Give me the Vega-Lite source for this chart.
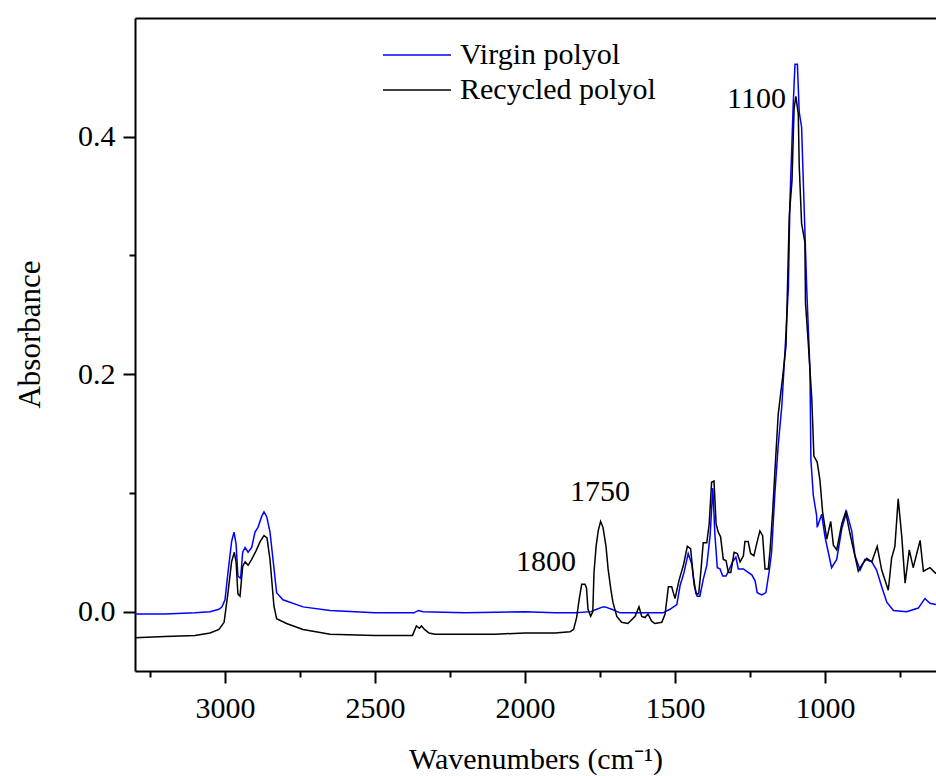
{
  "$schema": "https://vega.github.io/schema/vega-lite/v6.json",
  "autosize": "none",
  "width": 801,
  "height": 653,
  "padding": {"left": 135, "top": 18, "right": 0, "bottom": 105},
  "background": "white",
  "config": {
    "view": {"stroke": null},
    "font": "Liberation Serif",
    "axis": {
      "labelFont": "Liberation Serif", "titleFont": "Liberation Serif",
      "labelFontSize": 30, "titleFontSize": 30, "titleFontWeight": "normal",
      "labelColor": "#000", "titleColor": "#000", "domainColor": "#000", "tickColor": "#000",
      "domainWidth": 2, "tickWidth": 2, "grid": false
    },
    "legend": {
      "labelFont": "Liberation Serif", "labelFontSize": 30, "labelColor": "#000", "labelLimit": 400
    }
  },
  "datasets": {
    "spectra": [
      {"s":"Virgin polyol","w":3300,"a":-0.002},{"s":"Virgin polyol","w":3200,"a":-0.002},{"s":"Virgin polyol","w":3100,"a":-0.001},{"s":"Virgin polyol","w":3050,"a":0.000},{"s":"Virgin polyol","w":3020,"a":0.002},{"s":"Virgin polyol","w":3010,"a":0.004},{"s":"Virgin polyol","w":3000,"a":0.010},{"s":"Virgin polyol","w":2990,"a":0.033},{"s":"Virgin polyol","w":2978,"a":0.059},{"s":"Virgin polyol","w":2970,"a":0.067},{"s":"Virgin polyol","w":2963,"a":0.057},{"s":"Virgin polyol","w":2957,"a":0.030},{"s":"Virgin polyol","w":2948,"a":0.028},{"s":"Virgin polyol","w":2941,"a":0.050},{"s":"Virgin polyol","w":2933,"a":0.054},{"s":"Virgin polyol","w":2923,"a":0.050},{"s":"Virgin polyol","w":2911,"a":0.054},{"s":"Virgin polyol","w":2900,"a":0.067},{"s":"Virgin polyol","w":2890,"a":0.071},{"s":"Virgin polyol","w":2878,"a":0.080},{"s":"Virgin polyol","w":2870,"a":0.084},{"s":"Virgin polyol","w":2861,"a":0.080},{"s":"Virgin polyol","w":2850,"a":0.067},{"s":"Virgin polyol","w":2840,"a":0.044},{"s":"Virgin polyol","w":2828,"a":0.016},{"s":"Virgin polyol","w":2807,"a":0.010},{"s":"Virgin polyol","w":2740,"a":0.004},{"s":"Virgin polyol","w":2650,"a":0.001},{"s":"Virgin polyol","w":2500,"a":-0.001},{"s":"Virgin polyol","w":2370,"a":-0.001},{"s":"Virgin polyol","w":2355,"a":0.001},{"s":"Virgin polyol","w":2340,"a":0.000},{"s":"Virgin polyol","w":2200,"a":-0.001},{"s":"Virgin polyol","w":2000,"a":0.000},{"s":"Virgin polyol","w":1900,"a":-0.001},{"s":"Virgin polyol","w":1830,"a":-0.001},{"s":"Virgin polyol","w":1780,"a":0.000},{"s":"Virgin polyol","w":1761,"a":0.002},{"s":"Virgin polyol","w":1740,"a":0.004},{"s":"Virgin polyol","w":1733,"a":0.004},{"s":"Virgin polyol","w":1711,"a":0.002},{"s":"Virgin polyol","w":1683,"a":-0.001},{"s":"Virgin polyol","w":1540,"a":-0.001},{"s":"Virgin polyol","w":1517,"a":0.002},{"s":"Virgin polyol","w":1494,"a":0.006},{"s":"Virgin polyol","w":1483,"a":0.022},{"s":"Virgin polyol","w":1470,"a":0.033},{"s":"Virgin polyol","w":1456,"a":0.049},{"s":"Virgin polyol","w":1444,"a":0.040},{"s":"Virgin polyol","w":1436,"a":0.022},{"s":"Virgin polyol","w":1426,"a":0.013},{"s":"Virgin polyol","w":1417,"a":0.013},{"s":"Virgin polyol","w":1406,"a":0.027},{"s":"Virgin polyol","w":1394,"a":0.039},{"s":"Virgin polyol","w":1383,"a":0.064},{"s":"Virgin polyol","w":1374,"a":0.104},{"s":"Virgin polyol","w":1367,"a":0.065},{"s":"Virgin polyol","w":1359,"a":0.037},{"s":"Virgin polyol","w":1350,"a":0.036},{"s":"Virgin polyol","w":1341,"a":0.030},{"s":"Virgin polyol","w":1330,"a":0.030},{"s":"Virgin polyol","w":1322,"a":0.034},{"s":"Virgin polyol","w":1308,"a":0.042},{"s":"Virgin polyol","w":1297,"a":0.046},{"s":"Virgin polyol","w":1289,"a":0.036},{"s":"Virgin polyol","w":1272,"a":0.036},{"s":"Virgin polyol","w":1261,"a":0.034},{"s":"Virgin polyol","w":1244,"a":0.031},{"s":"Virgin polyol","w":1233,"a":0.026},{"s":"Virgin polyol","w":1226,"a":0.016},{"s":"Virgin polyol","w":1211,"a":0.014},{"s":"Virgin polyol","w":1197,"a":0.016},{"s":"Virgin polyol","w":1186,"a":0.034},{"s":"Virgin polyol","w":1178,"a":0.050},{"s":"Virgin polyol","w":1167,"a":0.100},{"s":"Virgin polyol","w":1156,"a":0.140},{"s":"Virgin polyol","w":1144,"a":0.173},{"s":"Virgin polyol","w":1133,"a":0.221},{"s":"Virgin polyol","w":1122,"a":0.273},{"s":"Virgin polyol","w":1117,"a":0.344},{"s":"Virgin polyol","w":1106,"a":0.427},{"s":"Virgin polyol","w":1100,"a":0.461},{"s":"Virgin polyol","w":1092,"a":0.461},{"s":"Virgin polyol","w":1086,"a":0.421},{"s":"Virgin polyol","w":1078,"a":0.408},{"s":"Virgin polyol","w":1070,"a":0.344},{"s":"Virgin polyol","w":1061,"a":0.273},{"s":"Virgin polyol","w":1050,"a":0.202},{"s":"Virgin polyol","w":1047,"a":0.128},{"s":"Virgin polyol","w":1039,"a":0.098},{"s":"Virgin polyol","w":1028,"a":0.081},{"s":"Virgin polyol","w":1026,"a":0.071},{"s":"Virgin polyol","w":1011,"a":0.082},{"s":"Virgin polyol","w":1000,"a":0.063},{"s":"Virgin polyol","w":989,"a":0.050},{"s":"Virgin polyol","w":978,"a":0.037},{"s":"Virgin polyol","w":961,"a":0.044},{"s":"Virgin polyol","w":944,"a":0.070},{"s":"Virgin polyol","w":928,"a":0.084},{"s":"Virgin polyol","w":911,"a":0.068},{"s":"Virgin polyol","w":900,"a":0.047},{"s":"Virgin polyol","w":883,"a":0.035},{"s":"Virgin polyol","w":867,"a":0.044},{"s":"Virgin polyol","w":844,"a":0.042},{"s":"Virgin polyol","w":828,"a":0.035},{"s":"Virgin polyol","w":811,"a":0.021},{"s":"Virgin polyol","w":794,"a":0.008},{"s":"Virgin polyol","w":772,"a":0.001},{"s":"Virgin polyol","w":728,"a":0.000},{"s":"Virgin polyol","w":689,"a":0.003},{"s":"Virgin polyol","w":667,"a":0.011},{"s":"Virgin polyol","w":650,"a":0.007},{"s":"Virgin polyol","w":630,"a":0.006},
      {"s":"Recycled polyol","w":3300,"a":-0.022},{"s":"Recycled polyol","w":3200,"a":-0.021},{"s":"Recycled polyol","w":3100,"a":-0.020},{"s":"Recycled polyol","w":3050,"a":-0.018},{"s":"Recycled polyol","w":3020,"a":-0.015},{"s":"Recycled polyol","w":3003,"a":-0.009},{"s":"Recycled polyol","w":2990,"a":0.016},{"s":"Recycled polyol","w":2978,"a":0.042},{"s":"Recycled polyol","w":2969,"a":0.050},{"s":"Recycled polyol","w":2963,"a":0.042},{"s":"Recycled polyol","w":2957,"a":0.015},{"s":"Recycled polyol","w":2950,"a":0.013},{"s":"Recycled polyol","w":2941,"a":0.038},{"s":"Recycled polyol","w":2933,"a":0.042},{"s":"Recycled polyol","w":2923,"a":0.039},{"s":"Recycled polyol","w":2911,"a":0.044},{"s":"Recycled polyol","w":2897,"a":0.051},{"s":"Recycled polyol","w":2883,"a":0.059},{"s":"Recycled polyol","w":2870,"a":0.064},{"s":"Recycled polyol","w":2860,"a":0.062},{"s":"Recycled polyol","w":2850,"a":0.044},{"s":"Recycled polyol","w":2837,"a":0.005},{"s":"Recycled polyol","w":2828,"a":-0.006},{"s":"Recycled polyol","w":2795,"a":-0.010},{"s":"Recycled polyol","w":2740,"a":-0.015},{"s":"Recycled polyol","w":2650,"a":-0.019},{"s":"Recycled polyol","w":2500,"a":-0.020},{"s":"Recycled polyol","w":2375,"a":-0.020},{"s":"Recycled polyol","w":2362,"a":-0.012},{"s":"Recycled polyol","w":2352,"a":-0.014},{"s":"Recycled polyol","w":2345,"a":-0.012},{"s":"Recycled polyol","w":2335,"a":-0.015},{"s":"Recycled polyol","w":2320,"a":-0.018},{"s":"Recycled polyol","w":2300,"a":-0.019},{"s":"Recycled polyol","w":2100,"a":-0.019},{"s":"Recycled polyol","w":2000,"a":-0.018},{"s":"Recycled polyol","w":1900,"a":-0.018},{"s":"Recycled polyol","w":1850,"a":-0.017},{"s":"Recycled polyol","w":1838,"a":-0.015},{"s":"Recycled polyol","w":1828,"a":-0.005},{"s":"Recycled polyol","w":1819,"a":0.011},{"s":"Recycled polyol","w":1811,"a":0.023},{"s":"Recycled polyol","w":1800,"a":0.023},{"s":"Recycled polyol","w":1795,"a":0.020},{"s":"Recycled polyol","w":1790,"a":0.002},{"s":"Recycled polyol","w":1781,"a":-0.004},{"s":"Recycled polyol","w":1774,"a":0.000},{"s":"Recycled polyol","w":1770,"a":0.033},{"s":"Recycled polyol","w":1763,"a":0.055},{"s":"Recycled polyol","w":1756,"a":0.068},{"s":"Recycled polyol","w":1748,"a":0.076},{"s":"Recycled polyol","w":1740,"a":0.071},{"s":"Recycled polyol","w":1730,"a":0.055},{"s":"Recycled polyol","w":1723,"a":0.036},{"s":"Recycled polyol","w":1714,"a":0.019},{"s":"Recycled polyol","w":1707,"a":0.008},{"s":"Recycled polyol","w":1694,"a":-0.004},{"s":"Recycled polyol","w":1678,"a":-0.009},{"s":"Recycled polyol","w":1657,"a":-0.010},{"s":"Recycled polyol","w":1633,"a":-0.004},{"s":"Recycled polyol","w":1620,"a":0.004},{"s":"Recycled polyol","w":1611,"a":-0.004},{"s":"Recycled polyol","w":1600,"a":-0.005},{"s":"Recycled polyol","w":1590,"a":-0.002},{"s":"Recycled polyol","w":1578,"a":-0.008},{"s":"Recycled polyol","w":1567,"a":-0.010},{"s":"Recycled polyol","w":1544,"a":-0.009},{"s":"Recycled polyol","w":1533,"a":-0.002},{"s":"Recycled polyol","w":1522,"a":0.021},{"s":"Recycled polyol","w":1511,"a":0.021},{"s":"Recycled polyol","w":1500,"a":0.011},{"s":"Recycled polyol","w":1486,"a":0.027},{"s":"Recycled polyol","w":1472,"a":0.039},{"s":"Recycled polyol","w":1459,"a":0.055},{"s":"Recycled polyol","w":1448,"a":0.053},{"s":"Recycled polyol","w":1439,"a":0.030},{"s":"Recycled polyol","w":1430,"a":0.015},{"s":"Recycled polyol","w":1421,"a":0.015},{"s":"Recycled polyol","w":1413,"a":0.036},{"s":"Recycled polyol","w":1406,"a":0.058},{"s":"Recycled polyol","w":1394,"a":0.058},{"s":"Recycled polyol","w":1386,"a":0.074},{"s":"Recycled polyol","w":1378,"a":0.109},{"s":"Recycled polyol","w":1370,"a":0.110},{"s":"Recycled polyol","w":1363,"a":0.074},{"s":"Recycled polyol","w":1356,"a":0.067},{"s":"Recycled polyol","w":1348,"a":0.063},{"s":"Recycled polyol","w":1339,"a":0.044},{"s":"Recycled polyol","w":1330,"a":0.043},{"s":"Recycled polyol","w":1322,"a":0.033},{"s":"Recycled polyol","w":1314,"a":0.033},{"s":"Recycled polyol","w":1303,"a":0.050},{"s":"Recycled polyol","w":1292,"a":0.049},{"s":"Recycled polyol","w":1283,"a":0.042},{"s":"Recycled polyol","w":1272,"a":0.047},{"s":"Recycled polyol","w":1267,"a":0.059},{"s":"Recycled polyol","w":1256,"a":0.059},{"s":"Recycled polyol","w":1248,"a":0.049},{"s":"Recycled polyol","w":1237,"a":0.047},{"s":"Recycled polyol","w":1226,"a":0.059},{"s":"Recycled polyol","w":1217,"a":0.068},{"s":"Recycled polyol","w":1208,"a":0.064},{"s":"Recycled polyol","w":1200,"a":0.036},{"s":"Recycled polyol","w":1189,"a":0.036},{"s":"Recycled polyol","w":1183,"a":0.052},{"s":"Recycled polyol","w":1174,"a":0.086},{"s":"Recycled polyol","w":1167,"a":0.118},{"s":"Recycled polyol","w":1156,"a":0.166},{"s":"Recycled polyol","w":1141,"a":0.198},{"s":"Recycled polyol","w":1130,"a":0.224},{"s":"Recycled polyol","w":1126,"a":0.263},{"s":"Recycled polyol","w":1119,"a":0.334},{"s":"Recycled polyol","w":1110,"a":0.363},{"s":"Recycled polyol","w":1103,"a":0.424},{"s":"Recycled polyol","w":1097,"a":0.434},{"s":"Recycled polyol","w":1089,"a":0.419},{"s":"Recycled polyol","w":1086,"a":0.376},{"s":"Recycled polyol","w":1078,"a":0.327},{"s":"Recycled polyol","w":1067,"a":0.311},{"s":"Recycled polyol","w":1065,"a":0.260},{"s":"Recycled polyol","w":1056,"a":0.227},{"s":"Recycled polyol","w":1044,"a":0.179},{"s":"Recycled polyol","w":1037,"a":0.131},{"s":"Recycled polyol","w":1026,"a":0.126},{"s":"Recycled polyol","w":1017,"a":0.111},{"s":"Recycled polyol","w":1008,"a":0.084},{"s":"Recycled polyol","w":994,"a":0.061},{"s":"Recycled polyol","w":981,"a":0.076},{"s":"Recycled polyol","w":972,"a":0.056},{"s":"Recycled polyol","w":961,"a":0.052},{"s":"Recycled polyol","w":944,"a":0.074},{"s":"Recycled polyol","w":931,"a":0.084},{"s":"Recycled polyol","w":917,"a":0.066},{"s":"Recycled polyol","w":903,"a":0.050},{"s":"Recycled polyol","w":889,"a":0.034},{"s":"Recycled polyol","w":878,"a":0.039},{"s":"Recycled polyol","w":861,"a":0.045},{"s":"Recycled polyol","w":844,"a":0.042},{"s":"Recycled polyol","w":826,"a":0.055},{"s":"Recycled polyol","w":811,"a":0.035},{"s":"Recycled polyol","w":789,"a":0.018},{"s":"Recycled polyol","w":778,"a":0.045},{"s":"Recycled polyol","w":767,"a":0.055},{"s":"Recycled polyol","w":756,"a":0.095},{"s":"Recycled polyol","w":744,"a":0.063},{"s":"Recycled polyol","w":733,"a":0.024},{"s":"Recycled polyol","w":719,"a":0.052},{"s":"Recycled polyol","w":706,"a":0.037},{"s":"Recycled polyol","w":683,"a":0.060},{"s":"Recycled polyol","w":672,"a":0.034},{"s":"Recycled polyol","w":650,"a":0.037},{"s":"Recycled polyol","w":630,"a":0.032}
    ],
    "peaks": [
      {"w":1100,"a":0.432,"t":"1100","pos":"right"},
      {"w":1800,"a":0.042,"t":"1800","pos":"right"},
      {"w":1750,"a":0.101,"t":"1750","pos":"center"}
    ]
  },
  "resolve": {"axis": {"x": "independent", "y": "independent"}},
  "layer": [
    {
      "data": {"name": "spectra"},
      "transform": [{"filter": "datum.s === 'Virgin polyol'"}],
      "mark": {"type": "line", "strokeWidth": 1.5, "clip": true},
      "encoding": {
        "x": {"field": "w", "type": "quantitative",
              "scale": {"domain": [630, 3300], "reverse": true, "nice": false, "zero": false},
              "axis": {"orient": "bottom", "values": [3000, 2500, 2000, 1500, 1000], "format": "d", "tickSize": 12, "labelPadding": 10, "title": "Wavenumbers (cm⁻¹)", "titlePadding": 21, "labelFlush": false}},
        "y": {"field": "a", "type": "quantitative",
              "scale": {"domain": [-0.05, 0.5], "nice": false, "zero": false},
              "axis": {"orient": "left", "values": [0, 0.2, 0.4], "format": ".1f", "tickSize": 12, "labelPadding": 8, "title": "Absorbance", "titlePadding": 31, "titleY": 316, "titleFontSize": 31, "labelFlush": false}},
        "color": {"field": "s", "type": "nominal",
                  "scale": {"domain": ["Virgin polyol", "Recycled polyol"], "range": ["#0000ff", "#000000"]},
                  "legend": {"orient": "none", "legendX": 264, "legendY": 19, "title": null, "padding": 0,
                             "symbolType": "M-2,0H2", "symbolSize": 1156, "symbolStrokeWidth": 1.5,
                             "labelOffset": 25, "rowPadding": 2, "labelFontSize": 30, "labelLimit": 400}}
      }
    },
    {
      "data": {"name": "spectra"},
      "transform": [{"filter": "datum.s === 'Recycled polyol'"}],
      "mark": {"type": "line", "strokeWidth": 1.5, "clip": true},
      "encoding": {
        "x": {"field": "w", "type": "quantitative", "axis": null},
        "y": {"field": "a", "type": "quantitative", "axis": null},
        "color": {"field": "s", "type": "nominal"}
      }
    },
    {
      "data": {"name": "peaks"},
      "transform": [{"filter": "datum.pos === 'right'"}],
      "mark": {"type": "text", "align": "right", "baseline": "middle", "dx": -9, "fontSize": 30, "font": "Liberation Serif", "color": "#000"},
      "encoding": {
        "x": {"field": "w", "type": "quantitative",
              "axis": {"orient": "bottom", "values": [3250, 2750, 2250, 1750, 1250, 750], "tickSize": 6, "labels": false, "domain": false, "title": null}},
        "y": {"field": "a", "type": "quantitative",
              "axis": {"orient": "left", "values": [0.1, 0.3], "tickSize": 6, "labels": false, "domain": false, "title": null}},
        "text": {"field": "t"}
      }
    },
    {
      "data": {"name": "peaks"},
      "transform": [{"filter": "datum.pos === 'center'"}],
      "mark": {"type": "text", "align": "center", "baseline": "middle", "fontSize": 30, "font": "Liberation Serif", "color": "#000"},
      "encoding": {
        "x": {"field": "w", "type": "quantitative",
              "axis": {"orient": "top", "ticks": false, "labels": false, "domain": true, "title": null}},
        "y": {"field": "a", "type": "quantitative", "axis": null},
        "text": {"field": "t"}
      }
    }
  ]
}
